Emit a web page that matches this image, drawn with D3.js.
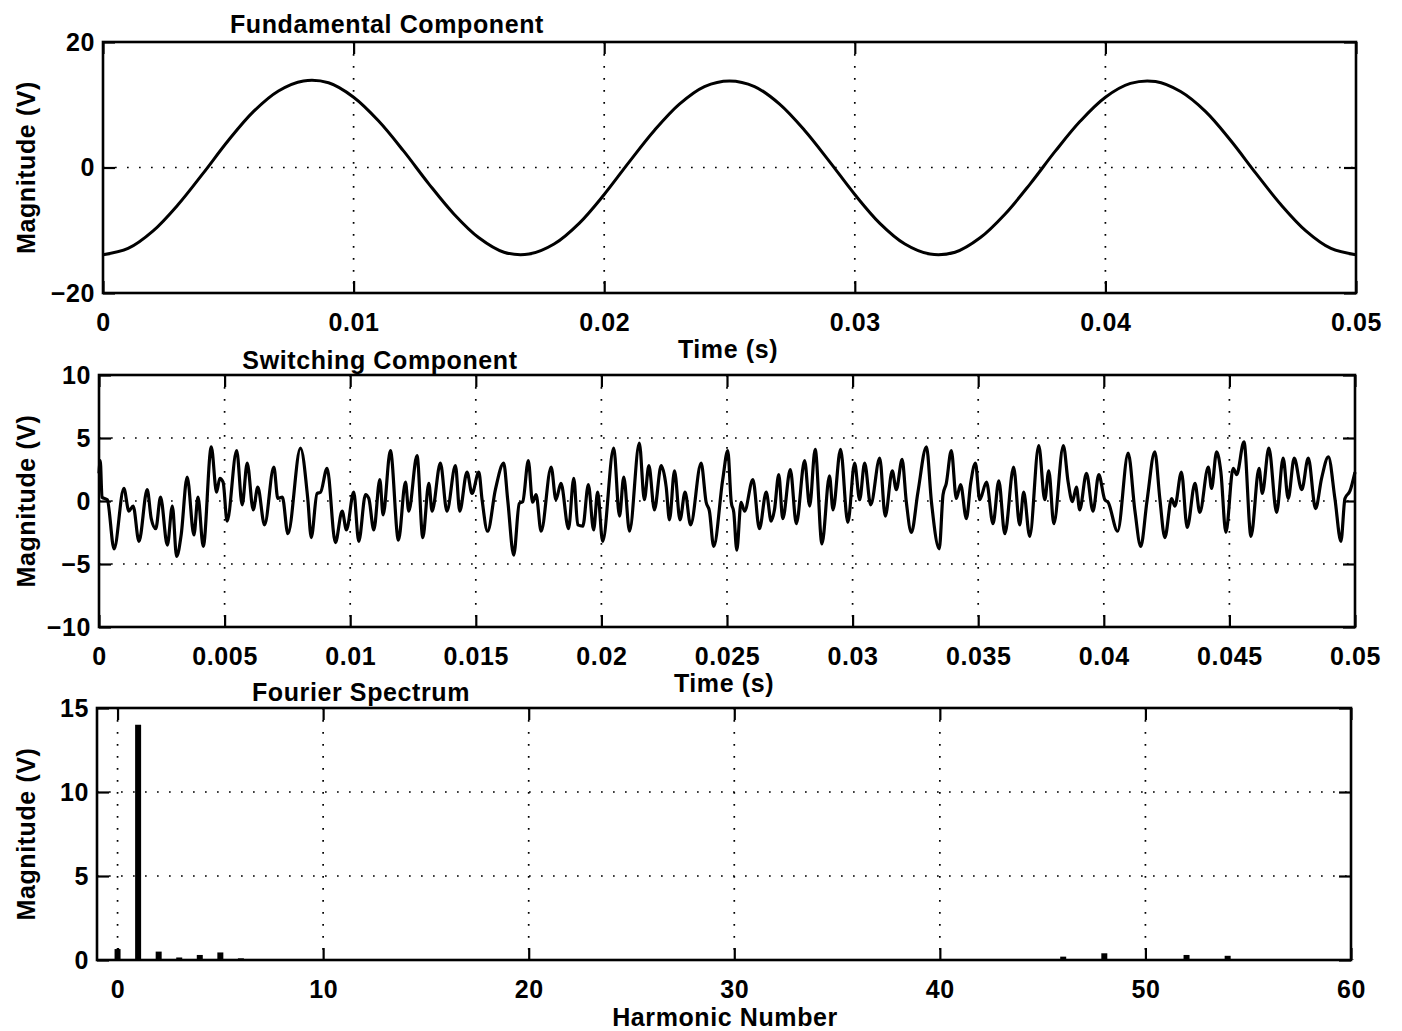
<!DOCTYPE html>
<html>
<head>
<meta charset="utf-8">
<script src="https://cdn.jsdelivr.net/npm/d3@7"></script>
<style>
  html, body { margin: 0; padding: 0; background: #fff; }
  svg { display: block; }
  text { font-family: "Liberation Sans", Arial, Helvetica, sans-serif; font-weight: bold; fill: #000; letter-spacing: 0.6px; }
</style>
</head>
<body>
<svg id="chart" width="1402" height="1031"></svg>
<script>
// ---- Fundamental component: samples every 1 ms over 0..50 ms (volts)
const fundTimeMs = d3.range(0, 51);
const fundVolts = [
  -13.9, -12.9, -10.1, -5.9, -0.9, 4.3, 8.9, 12.2, 13.8, 13.5,
  11.2, 7.4, 2.6, -2.6, -7.4, -11.2, -13.5, -13.8, -12.2, -8.9,
  -4.3, 0.9, 5.9, 10.1, 12.9, 13.8, 12.9, 10.1, 5.9, 0.9,
  -4.3, -8.9, -12.2, -13.8, -13.5, -11.2, -7.4, -2.6, 2.6, 7.4,
  11.2, 13.4, 13.7, 12.1, 8.9, 4.3, -0.9, -5.9, -10.1, -12.9, -13.9
];

// ---- Switching component: turning points of the ripple (time in ms, volts)
const switchTimeMs = [
  0.00, 0.05, 0.12, 0.33, 0.60, 0.99, 1.19, 1.36, 1.59, 1.92,
  2.08, 2.26, 2.45, 2.72, 2.92, 3.09, 3.27, 3.51, 3.78, 3.94,
  4.15, 4.47, 4.68, 4.81, 4.94, 5.10, 5.48, 5.70, 5.90, 6.14,
  6.32, 6.59, 6.96, 7.12, 7.30, 7.52, 8.02, 8.31, 8.45, 8.68,
  8.82, 9.08, 9.41, 9.68, 9.85, 10.14, 10.34, 10.61, 10.74, 10.94,
  11.18, 11.31, 11.60, 11.92, 12.20, 12.33, 12.66, 12.89, 13.13, 13.26,
  13.59, 13.85, 14.19, 14.36, 14.65, 14.85, 15.12, 15.25, 15.47, 15.78,
  16.11, 16.27, 16.51, 16.73, 16.87, 17.09, 17.26, 17.40, 17.60, 18.00,
  18.19, 18.39, 18.69, 18.90, 19.06, 19.26, 19.48, 19.69, 19.85, 20.05,
  20.49, 20.72, 20.89, 21.12, 21.51, 21.71, 21.89, 22.11, 22.38, 22.58,
  22.71, 22.91, 23.13, 23.33, 23.55, 23.97, 24.17, 24.30, 24.47, 24.83,
  25.03, 25.17, 25.27, 25.39, 25.56, 25.70, 26.03, 26.29, 26.56, 26.76,
  26.89, 27.06, 27.22, 27.52, 27.76, 28.09, 28.29, 28.51, 28.78, 29.08,
  29.22, 29.52, 29.81, 30.08, 30.28, 30.48, 30.72, 31.08, 31.30, 31.58,
  31.74, 31.97, 32.14, 32.34, 32.60, 32.94, 33.14, 33.45, 33.60, 33.73,
  33.93, 34.13, 34.30, 34.53, 34.70, 34.89, 35.06, 35.33, 35.59, 35.82,
  36.06, 36.41, 36.65, 36.81, 37.05, 37.41, 37.65, 37.81, 38.01, 38.39,
  38.58, 38.75, 38.91, 39.04, 39.31, 39.57, 39.80, 40.04, 40.17, 40.55,
  40.97, 41.24, 41.47, 41.72, 42.03, 42.23, 42.43, 42.70, 42.83, 43.09,
  43.32, 43.63, 43.82, 44.16, 44.29, 44.49, 44.66, 44.86, 45.15, 45.29,
  45.58, 45.86, 46.18, 46.31, 46.57, 46.88, 47.14, 47.34, 47.58, 47.88,
  48.14, 48.43, 48.67, 48.94, 49.20, 49.44, 49.60, 49.80, 50.00
];
const switchVolts = [
  2.2, 3.2, 0.3, 0.1, -3.8, 1.0, -0.8, -0.4, -3.2, 0.9,
  -1.4, -2.2, 0.3, -3.5, -0.4, -4.4, -2.7, 1.9, -2.7, 0.3,
  -3.6, 4.3, 0.7, 1.8, 1.5, -1.6, 4.0, -0.3, 3.0, -0.7,
  1.1, -1.9, 2.7, 0.2, 0.3, -2.6, 4.2, 0.2, -2.9, 0.6,
  0.7, 2.6, -3.3, -0.8, -2.3, 0.7, -3.2, 0.5, 0.2, -2.3,
  1.7, -1.1, 4.0, -3.1, 1.5, -0.8, 3.6, -2.9, 1.4, -0.8,
  3.0, -0.8, 2.8, -0.8, 2.3, 0.6, 2.3, 0.1, -2.4, 0.9,
  3.0, 0.1, -4.3, -0.2, -0.05, 3.2, -0.1, 0.5, -2.4, 2.7,
  0.1, 1.4, -2.2, 1.8, -1.9, -2.0, 1.3, -2.3, 0.7, -3.2,
  4.2, -1.2, 1.9, -2.4, 4.6, 0.1, 2.8, -0.7, 2.8, 1.1,
  -1.5, 2.4, -1.5, 0.7, -1.9, 3.0, -0.1, -0.8, -3.6, 1.7,
  4.0, -0.1, -0.9, -3.9, -0.1, -0.8, 1.7, -2.2, 0.7, -1.6,
  -0.7, 2.1, -1.4, 2.5, -1.8, 3.2, -0.4, 4.1, -3.4, 2.0,
  -0.7, 4.1, -1.7, 3.0, 0.1, 3.0, -0.3, 3.4, -1.2, 2.4,
  0.9, 3.3, -0.1, -2.5, 0.7, 4.3, -0.1, -3.8, 0.5, 1.4,
  4.0, 0.2, 1.3, -1.4, 1.4, 3.0, 0.1, 1.5, -1.8, 1.6,
  -2.6, 2.7, -1.9, 0.7, -2.8, 4.4, 0.1, 2.4, -1.8, 4.4,
  1.5, -0.05, 1.1, -0.7, 2.2, -0.8, 2.1, 0.1, -0.1, -2.4,
  3.8, -0.8, -3.6, 0.0, 3.9, 0.2, -2.9, 0.2, -0.4, 2.3,
  -2.1, 1.4, -0.9, 2.7, 1.0, 3.9, 2.3, -2.5, 2.6, 2.1,
  4.7, -2.8, 2.6, 0.6, 4.2, -0.9, 3.4, 0.2, 3.4, 0.9,
  3.4, -0.6, 1.8, 3.5, 0.2, -3.2, 0.2, 0.8, 2.3
];

// ---- Fourier spectrum: magnitude of harmonics 0..60 (volts)
const harmonicNumbers = d3.range(0, 61);
const harmonicMags = [
  0.65, 14.0, 0.5, 0.15, 0.3, 0.45, 0.1, 0.06, 0.05, 0.03,
  0.02, 0, 0, 0, 0, 0, 0, 0, 0, 0,
  0, 0, 0, 0, 0, 0, 0, 0, 0, 0,
  0, 0, 0, 0, 0, 0, 0, 0, 0, 0,
  0, 0, 0, 0, 0.05, 0.03, 0.2, 0.05, 0.4, 0.05,
  0.05, 0.05, 0.3, 0.05, 0.25, 0.03, 0.06, 0.02, 0.02, 0.02, 0.02
];

// ---- Tick values
const fundXTicks = [0, 0.01, 0.02, 0.03, 0.04, 0.05];
const fundYTicks = [-20, 0, 20];
const switchXTicks = [0, 0.005, 0.01, 0.015, 0.02, 0.025, 0.03, 0.035, 0.04, 0.045, 0.05];
const switchYTicks = [-10, -5, 0, 5, 10];
const specXTicks = [0, 10, 20, 30, 40, 50, 60];
const specYTicks = [0, 5, 10, 15];

const svg = d3.select("#chart");
const FONT = 25;
const TICK = 12;

function panel(cfg) {
  const { left, right, top, bottom } = cfg;
  const x = d3.scaleLinear().domain(cfg.xDomain).range([left, right]);
  const y = d3.scaleLinear().domain(cfg.yDomain).range([bottom, top]);
  const g = svg.append("g");

  // dotted grid at interior tick positions
  const grid = g.append("g").attr("stroke", "#000").attr("stroke-width", 1.7)
    .attr("stroke-dasharray", "1.7,10.3").attr("fill", "none");
  cfg.xTicks.forEach(v => {
    const px = x(v);
    if (px - left < 3 || right - px < 3) return;
    grid.append("line").attr("x1", px).attr("x2", px).attr("y1", top).attr("y2", bottom);
  });
  cfg.yTicks.forEach(v => {
    const py = y(v);
    if (py - top < 3 || bottom - py < 3) return;
    grid.append("line").attr("x1", left).attr("x2", right).attr("y1", py).attr("y2", py);
  });

  // inward ticks on all four sides, labels on bottom and left
  const fmt = cfg.fmt || (d => d3.format("~g")(d));
  const axB = g.append("g").attr("transform", `translate(0,${bottom})`)
    .call(d3.axisBottom(x).tickValues(cfg.xTicks).tickSize(-TICK).tickSizeOuter(0).tickPadding(20).tickFormat(fmt));
  const axT = g.append("g").attr("transform", `translate(0,${top})`)
    .call(d3.axisTop(x).tickValues(cfg.xTicks).tickSize(-TICK).tickSizeOuter(0).tickFormat(""));
  const axL = g.append("g").attr("transform", `translate(${left},0)`)
    .call(d3.axisLeft(y).tickValues(cfg.yTicks).tickSize(-TICK).tickSizeOuter(0).tickPadding(8).tickFormat(fmt));
  const axR = g.append("g").attr("transform", `translate(${right},0)`)
    .call(d3.axisRight(y).tickValues(cfg.yTicks).tickSize(-TICK).tickSizeOuter(0).tickFormat(""));
  [axB, axT, axL, axR].forEach(a => {
    a.select(".domain").remove();
    a.selectAll(".tick line").attr("stroke", "#000").attr("stroke-width", 2.2);
    a.attr("font-family", null).attr("font-size", null);
    a.selectAll("text").attr("font-size", FONT).attr("fill", "#000");
  });

  // marks
  cfg.draw(g, x, y);

  // frame
  g.append("rect").attr("x", left).attr("y", top)
    .attr("width", right - left).attr("height", bottom - top)
    .attr("fill", "none").attr("stroke", "#000").attr("stroke-width", 2.6);

  // titles
  g.append("text").attr("x", cfg.titleX).attr("y", cfg.titleY)
    .attr("text-anchor", "middle").attr("font-size", FONT).text(cfg.title);
  g.append("text").attr("x", cfg.xLabelX).attr("y", cfg.xLabelY)
    .attr("text-anchor", "middle").attr("font-size", FONT).text(cfg.xLabel);
  g.append("text").attr("transform", `translate(35,${(top + bottom) / 2}) rotate(-90)`)
    .attr("text-anchor", "middle").attr("font-size", FONT).text("Magnitude (V)");
}

// Panel 1: fundamental component
panel({
  left: 103, right: 1356, top: 42, bottom: 293,
  xDomain: [0, 0.05], yDomain: [-20, 20],
  xTicks: fundXTicks, yTicks: fundYTicks,
  title: "Fundamental Component", titleX: 387, titleY: 33,
  xLabel: "Time (s)", xLabelX: 728, xLabelY: 358,
  draw: (g, x, y) => {
    const line = d3.line().x((d, i) => x(fundTimeMs[i] / 1000)).y(d => y(d)).curve(d3.curveCatmullRom);
    g.append("path").datum(fundVolts).attr("d", line)
      .attr("fill", "none").attr("stroke", "#000").attr("stroke-width", 3).attr("stroke-linejoin", "round");
  }
});

// Panel 2: switching component
panel({
  left: 99, right: 1355, top: 375, bottom: 627,
  xDomain: [0, 0.05], yDomain: [-10, 10],
  xTicks: switchXTicks, yTicks: switchYTicks,
  title: "Switching Component", titleX: 380, titleY: 369,
  xLabel: "Time (s)", xLabelX: 724, xLabelY: 692,
  draw: (g, x, y) => {
    const line = d3.line().x((d, i) => x(switchTimeMs[i] / 1000)).y(d => y(d)).curve(d3.curveMonotoneX);
    g.append("path").datum(switchVolts).attr("d", line)
      .attr("fill", "none").attr("stroke", "#000").attr("stroke-width", 3.2).attr("stroke-linejoin", "round");
  }
});

// Panel 3: Fourier spectrum (stem bars)
panel({
  left: 97, right: 1351, top: 708, bottom: 960,
  xDomain: [-1, 60], yDomain: [0, 15],
  xTicks: specXTicks, yTicks: specYTicks,
  title: "Fourier Spectrum", titleX: 361, titleY: 701,
  xLabel: "Harmonic Number", xLabelX: 725, xLabelY: 1026,
  draw: (g, x, y) => {
    g.append("g").selectAll("line")
      .data(harmonicNumbers.filter((h, i) => harmonicMags[i] > 0))
      .join("line")
      .attr("x1", h => x(h)).attr("x2", h => x(h))
      .attr("y1", y(0)).attr("y2", h => y(harmonicMags[h]))
      .attr("stroke", "#000").attr("stroke-width", 6);
  }
});
</script>
</body>
</html>
